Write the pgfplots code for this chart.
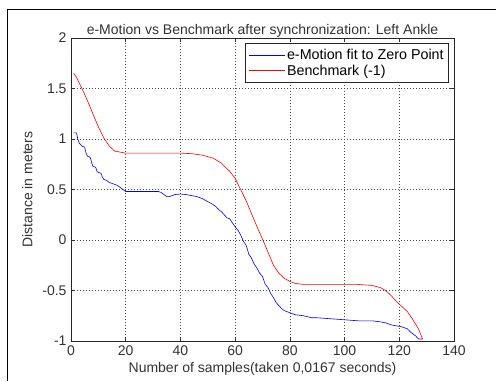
\documentclass[border=0pt]{standalone}
\usepackage{pgfplots}
\pgfplotsset{compat=1.18}
\usepackage{fontspec}
\setmainfont{Liberation Sans}
\begin{document}
\begin{tikzpicture}[x=1pt,y=1pt]
\useasboundingbox (0,0) rectangle (496,381);
\draw[line width=1pt] (7,0) -- (7,371) -- (496,371);
\begin{axis}[
  scale only axis,
  width=383pt, height=303pt,
  at={(71pt,40pt)}, anchor=south west,
  xmin=0, xmax=140, ymin=-1, ymax=2,
  xtick={0,20,...,140},
  ytick={-1,-0.5,0,0.5,1,1.5,2},
  yticklabels={-1,-0.5,0,0.5,1,1.5,2},
  /pgf/number format/assume math mode=true,
  tick align=inside,
  major tick length=4pt,
  tick style={black!80, line width=0.6pt},
  axis line style={black!85, line width=0.8pt},
  grid=major,
  major grid style={black!70, line width=0.5pt, dash pattern=on 1pt off 2pt},
  tick label style={font=\fontsize{14}{16}\selectfont, text=black!80},
  xticklabel style={yshift=-1pt},
  yticklabel style={xshift=-1pt},
  title={e-Motion vs Benchmark after synchronization: Left Ankle},
  title style={font=\fontsize{14}{16}\selectfont, text=black!80, yshift=-9pt},
  xlabel={Number of samples(taken 0,0167 seconds)},
  ylabel={Distance in meters},
  label style={font=\fontsize{14}{16}\selectfont, text=black!80},
  xlabel style={yshift=0pt},
  ylabel style={yshift=3pt},
  legend cell align=left,
  legend style={at={(0.987,0.983)}, anchor=north east,
    font=\fontsize{14.3}{16}\selectfont,
    draw=black!85, line width=0.8pt, inner xsep=3pt, inner ysep=3.5pt,
    row sep=0pt},
  legend image code/.code={\draw[#1, line width=0.8pt] (0pt,0pt) -- (36pt,0pt);},
]
\addplot[blue, line width=0.6pt] coordinates {
(1,1.06) (2,1.06) (2.5,1.00) (3,0.96) (4,0.93) (5,0.92) (5.5,0.86) (6,0.83)
(7,0.82) (7.5,0.77) (8,0.73) (9,0.72) (9.5,0.68) (10,0.67) (11,0.66) (11.5,0.62)
(12,0.60) (13,0.59) (14,0.57) (15,0.56) (16,0.55) (17,0.54) (18,0.52) (19,0.50)
(20,0.48) (25,0.48) (30,0.48) (32,0.48) (33,0.47) (34,0.45) (35,0.43) (36,0.43)
(37,0.44) (38,0.45) (40,0.455) (42,0.45) (44,0.44) (46,0.43) (48,0.41) (50,0.38)
(52,0.35) (53,0.33) (54,0.30) (55,0.28) (56,0.25) (57,0.22) (58,0.21) (59,0.17)
(60,0.13) (61,0.10) (62,0.05) (63,-0.01) (64,-0.05) (65,-0.14) (66,-0.18) (67,-0.24)
(68,-0.28) (69,-0.33) (70,-0.36) (71,-0.44) (72,-0.47) (73,-0.53) (74,-0.57) (75,-0.62)
(76,-0.65) (77,-0.68) (78,-0.70) (80,-0.72) (82,-0.74) (85,-0.75) (88,-0.77) (90,-0.77)
(95,-0.78) (100,-0.79) (105,-0.80) (110,-0.80) (113,-0.81) (115,-0.82) (117,-0.84)
(119,-0.85) (121,-0.86) (122,-0.87) (123,-0.88) (124,-0.91) (125,-0.93) (126,-0.95)
(127,-0.98) (128.5,-0.98)
};
\addlegendentry{e-Motion fit to Zero Point}
\addplot[red, line width=0.6pt] coordinates {
(1,1.65) (2,1.61) (4,1.50) (6,1.38) (8,1.25) (10,1.12) (12,1.01) (14,0.93)
(16,0.88) (18,0.87) (20,0.86) (25,0.86) (30,0.86) (35,0.86) (40,0.86) (44,0.855)
(48,0.84) (52,0.81) (55,0.76) (58,0.68) (60,0.61) (62,0.50) (64,0.39) (66,0.26)
(68,0.13) (70,0.01) (72,-0.12) (74,-0.25) (76,-0.33) (78,-0.38) (80,-0.41)
(82,-0.43) (85,-0.44) (90,-0.44) (95,-0.44) (100,-0.44) (105,-0.44) (110,-0.45)
(113,-0.47) (115,-0.50) (117,-0.55) (119,-0.61) (121,-0.66) (123,-0.71) (125,-0.79)
(127,-0.88) (128.5,-0.98)
};
\addlegendentry{Benchmark (-1)}
\end{axis}
\end{tikzpicture}
\end{document}
